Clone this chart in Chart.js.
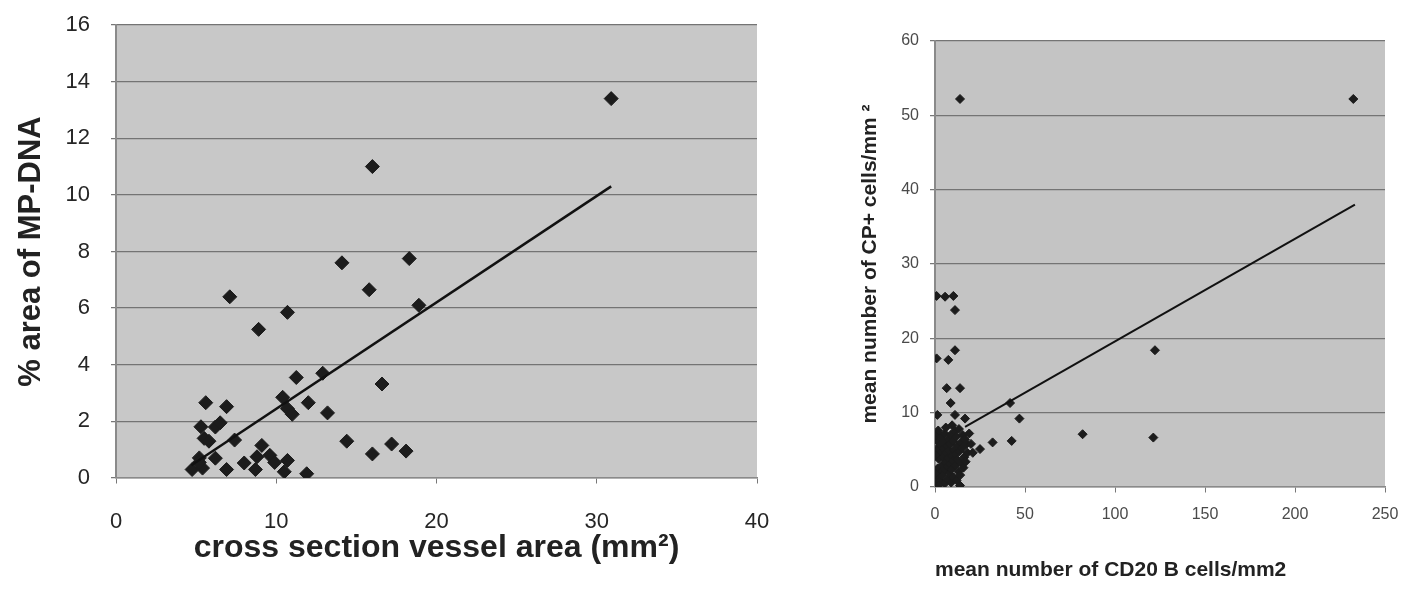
<!DOCTYPE html>
<html>
<head>
<meta charset="utf-8">
<script src="https://cdn.jsdelivr.net/npm/chart.js@4.4.0/dist/chart.umd.min.js"></script>
<style>
  body { margin: 0; background: #fff; width: 1407px; height: 589px; overflow: hidden; position: relative; }
  #leftWrap { position: absolute; left: 0; top: 0; width: 780px; height: 589px; }
  #rightWrap { position: absolute; left: 800px; top: 0; width: 607px; height: 589px; }
</style>
</head>
<body>
<div id="leftWrap"><canvas id="leftChart"></canvas></div>
<div id="rightWrap"><canvas id="rightChart"></canvas></div>
<script>
// Grafik kiri: luas penampang pembuluh vs % area MP-DNA
const vesselArea = [30.9, 16.0, 14.1, 18.3, 7.1, 10.7, 15.8, 18.9, 8.9, 11.25, 12.9, 10.4, 10.7, 11.0,
    12.0, 13.2, 16.6, 14.4, 16.0, 17.2, 18.1, 11.9, 5.6, 6.9, 5.3, 6.2, 6.5, 5.5, 7.4, 5.2, 4.75,
    5.4, 6.2, 6.9, 8.0, 8.7, 9.1, 8.8, 9.6, 9.9, 10.7, 10.5, 5.8, 5.2];
const mpDnaArea = [13.4, 11.0, 7.6, 7.75, 6.4, 5.85, 6.65, 6.1, 5.25, 3.55, 3.7, 2.85, 2.45, 2.25,
    2.66, 2.3, 3.32, 1.3, 0.85, 1.2, 0.95, 0.15, 2.66, 2.52, 1.81, 1.8, 1.95, 1.4, 1.34, 0.71, 0.3,
    0.35, 0.7, 0.3, 0.53, 0.3, 1.15, 0.75, 0.8, 0.55, 0.62, 0.22, 1.3, 0.55];
const leftTrendX = [4.7, 30.9];
const leftTrendY = [0.45, 10.3];
const leftXTicks = [0, 10, 20, 30, 40];
const leftYTicks = [0, 2, 4, 6, 8, 10, 12, 14, 16];

// Grafik kanan: sel B CD20 vs sel CP+
const cd20Cells = [13.9, 232.4, 122.2, 82, 121.3, 46.9, 41.7, 42.6, 32, 25, 0.9, 5.6, 10.2, 11.1,
    11.1, 7.4, 0.9, 6.5, 13.9, 8.7, 1.3, 11.1, 16.7,
    0.5, 1.0, 1.5, 2.0, 0.8, 1.2, 0.6, 2.5, 3.0, 3.2, 2.8, 3.5, 4.0, 4.2, 4.5, 4.8, 5.0, 5.3,
    5.5, 5.8, 6.0, 6.3, 6.5, 6.8, 7.0, 7.2, 7.5, 7.8, 8.0, 8.2, 8.5, 8.8, 9.0, 9.2, 9.5, 9.8,
    10.0, 10.3, 10.6, 11.0, 11.2, 11.5, 11.8, 12.0, 12.3, 12.6, 13.0, 13.3, 13.6, 14.0, 14.3,
    14.6, 15.0, 15.4, 15.8, 16.2, 16.6, 17.0, 17.5, 18.0, 13.9, 2.0, 0.4, 0.3, 1.8, 6.0, 9.5,
    19.0, 20.0, 21.0];
const cpCells = [52.2, 52.2, 18.4, 7.1, 6.65, 9.2, 11.3, 6.2, 6.0, 5.1, 25.7, 25.6, 25.7, 23.8,
    18.4, 17.1, 17.3, 13.3, 13.3, 11.3, 9.7, 9.7, 9.2,
    0.3, 1.2, 2.5, 3.8, 5.0, 6.2, 7.0, 0.8, 2.0, 4.5, 5.6, 6.8, 1.5, 3.0, 4.0, 5.2, 6.0, 7.2,
    0.5, 2.3, 3.3, 4.6, 5.5, 1.0, 2.8, 3.9, 6.5, 4.9, 1.8, 3.1, 5.8, 7.0, 0.6, 2.4, 4.2, 6.2,
    3.5, 1.3, 5.0, 7.5, 2.9, 4.4, 6.8, 0.9, 3.7, 5.6, 2.1, 7.8, 4.8, 1.6, 6.0,
    3.2, 5.2, 7.0, 2.6, 4.0, 6.4, 3.4, 5.8, 4.6, 0.2, 0.2, 1.8, 4.2, 7.6, 8.0, 8.3,
    7.2, 5.8, 4.6];
const rightTrendX = [16.7, 233.3];
const rightTrendY = [8.1, 38.0];
const rightXTicks = [0, 50, 100, 150, 200, 250];
const rightYTicks = [0, 10, 20, 30, 40, 50, 60];

// Latar abu-abu area plot
const plotBg = {
    id: 'plotBg',
    beforeDraw(chart, args, opts) {
        const { ctx, chartArea: a } = chart;
        ctx.save();
        ctx.fillStyle = opts.color;
        ctx.fillRect(a.left, a.top, a.right - a.left, a.bottom - a.top);
        ctx.restore();
    }
};

function toPoints(xs, ys) {
    return xs.map((x, i) => ({ x: x, y: ys[i] }));
}

// tickLength dipakai sebagai jarak label; hanya 5px dekat sumbu yang digambar (dash)
function makeChart(id, cfg) {
    return new Chart(document.getElementById(id), {
        type: 'scatter',
        data: {
            datasets: [{
                type: 'line',
                data: toPoints(cfg.trendX, cfg.trendY),
                borderColor: '#111',
                borderWidth: cfg.lineWidth,
                pointRadius: 0,
                fill: false
            }, {
                data: toPoints(cfg.xs, cfg.ys),
                pointStyle: 'rectRot',
                pointRadius: cfg.pointRadius,
                backgroundColor: '#1c1c1c',
                borderColor: '#1c1c1c',
                borderWidth: 1
            }]
        },
        options: {
            responsive: true,
            maintainAspectRatio: false,
            animation: false,
            layout: { padding: cfg.padding },
            plugins: {
                legend: { display: false },
                tooltip: { enabled: false },
                plotBg: { color: cfg.bg }
            },
            scales: {
                x: {
                    type: 'linear',
                    min: cfg.xTicks[0],
                    max: cfg.xTicks[cfg.xTicks.length - 1],
                    afterBuildTicks: s => { s.ticks = cfg.xTicks.map(v => ({ value: v })); },
                    afterFit: s => { s.height = cfg.xHeight; },
                    grid: {
                        drawOnChartArea: false, drawTicks: true, tickLength: cfg.xTickGap,
                        tickColor: '#777', tickBorderDash: [5, 200]
                    },
                    border: { display: true, color: '#8a8a8a', width: 1.5 },
                    ticks: {
                        font: { family: 'Liberation Sans', size: cfg.tickSize },
                        color: cfg.tickColor,
                        padding: 0,
                        maxRotation: 0
                    },
                    title: {
                        display: true,
                        text: cfg.xTitle,
                        align: cfg.xTitleAlign,
                        font: { family: 'Liberation Sans', size: cfg.xTitleSize, weight: 'bold' },
                        color: '#222',
                        padding: { top: 0, bottom: cfg.xTitlePad }
                    }
                },
                y: {
                    type: 'linear',
                    min: cfg.yTicks[0],
                    max: cfg.yTicks[cfg.yTicks.length - 1],
                    afterBuildTicks: s => { s.ticks = cfg.yTicks.map(v => ({ value: v })); },
                    afterFit: s => { s.width = cfg.yWidth; },
                    grid: {
                        color: '#747474', lineWidth: 1.3, tickLength: cfg.yTickGap,
                        tickColor: '#777', tickBorderDash: [0, cfg.yTickGap - 5, 5, 0]
                    },
                    border: { display: true, color: '#8a8a8a', width: 2 },
                    ticks: {
                        font: { family: 'Liberation Sans', size: cfg.tickSize },
                        color: cfg.tickColor,
                        padding: 0
                    },
                    title: {
                        display: true,
                        text: cfg.yTitle,
                        font: { family: 'Liberation Sans', size: cfg.yTitleSize, weight: 'bold' },
                        color: '#222',
                        padding: { top: cfg.yTitlePad, bottom: 0 }
                    }
                }
            }
        },
        plugins: [plotBg]
    });
}

makeChart('leftChart', {
    xs: vesselArea, ys: mpDnaArea, trendX: leftTrendX, trendY: leftTrendY,
    xTicks: leftXTicks, yTicks: leftYTicks,
    xTitle: 'cross section vessel area (mm²)', yTitle: '% area of MP-DNA', xTitleAlign: 'center',
    padding: { left: 0, top: 25, right: 23, bottom: 0 },
    xHeight: 111, yWidth: 116,
    tickSize: 22, tickColor: '#262626', xTickGap: 31, yTickGap: 26,
    xTitleSize: 32, yTitleSize: 31, xTitlePad: 22, yTitlePad: 13,
    pointRadius: 7, lineWidth: 2.5, bg: '#c8c8c8'
});

makeChart('rightChart', {
    xs: cd20Cells, ys: cpCells, trendX: rightTrendX, trendY: rightTrendY,
    xTicks: rightXTicks, yTicks: rightYTicks,
    xTitle: 'mean number of CD20 B cells/mm2', yTitle: 'mean number of CP+ cells/mm ²', xTitleAlign: 'start',
    padding: { left: 0, top: 41, right: 22, bottom: 0 },
    xHeight: 102, yWidth: 135,
    tickSize: 16, tickColor: '#4a4a4a', xTickGap: 18, yTickGap: 16,
    xTitleSize: 21, yTitleSize: 21, xTitlePad: 6, yTitlePad: 58,
    pointRadius: 4.5, lineWidth: 2, bg: '#c4c4c4'
});
</script>
</body>
</html>
